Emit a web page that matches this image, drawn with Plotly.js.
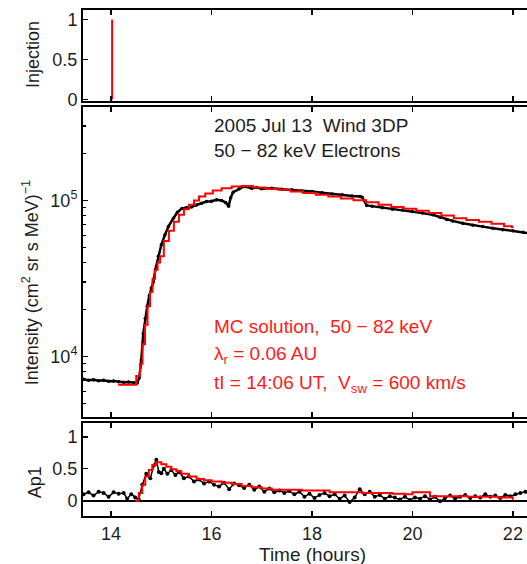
<!DOCTYPE html>
<html><head><meta charset="utf-8">
<script src="https://cdn.plot.ly/plotly-3.0.1.min.js"></script>
<style>html,body{margin:0;padding:0;overflow:hidden;background:#fff}</style>
</head><body><div id="chart" style="width:560px;height:564px"></div>
<script>
// ---- data ----
const injTime = [14.02, 14.02];
const injValue = [0, 1];

const obsTime = [13.45,13.55,13.65,13.75,13.85,13.95,14.05,14.15,14.25,14.35,14.45,14.52,
 14.56,14.60,14.64,14.68,14.72,14.76,14.80,14.84,14.88,14.94,15.00,15.07,15.14,15.24,15.32,15.41,
 15.50,15.60,15.70,15.80,15.90,16.00,16.10,16.20,16.28,16.34,16.38,16.43,16.55,16.65,16.80,16.90,
 17.00,17.20,17.40,17.60,17.80,18.00,18.20,18.40,18.60,18.80,18.96,19.00,19.09,19.20,19.40,19.60,
 19.80,20.00,20.20,20.40,20.55,20.68,20.80,21.00,21.20,21.40,21.60,21.80,22.00,22.20,22.35];
const obsIntensity = [7150,7050,7100,7000,7050,6950,6980,6900,6850,6880,6800,6780,
 7300,9500,14000,17500,21000,24500,27500,30000,36000,44000,52000,60000,68000,77000,84000,89000,
 90000,91000,93500,96000,98500,99000,101000,100000,97000,92000,104000,113000,119000,123000,120000,121000,
 119000,120000,118000,117000,115000,114000,112000,110000,109000,107000,106000,105000,93000,92000,90000,88000,
 87000,85000,83000,81000,78000,75500,74000,71500,69500,68000,66500,65000,64000,62500,61500];

const modelTime = [14.14,14.30,14.45,14.55,14.60,14.65,14.70,14.75,14.80,14.85,14.90,14.95,15.00,
 15.10,15.20,15.30,15.40,15.50,15.60,15.70,15.80,15.95,16.10,16.30,16.50,16.70,16.95,17.20,17.45,
 17.70,17.95,18.20,18.45,18.70,18.95,19.20,19.45,19.70,19.95,20.20,20.45,20.70,20.95,21.20,21.45,
 21.70,21.95,22.01];
const modelIntensity = [6590,6590,6600,7500,9000,12000,16000,21000,26000,31500,36000,40000,44000,
 55000,64000,73000,81000,88000,94000,100000,106000,111000,116000,120000,123000,124000,121000,119000,117000,
 114000,111500,109000,106000,103000,100500,97500,94000,91000,88500,86000,83000,80000,77000,75000,73000,
 71000,68500,67500];

const anisoTime = [13.45,13.55,13.65,13.75,13.85,13.95,14.05,14.15,14.25,14.32,14.40,14.48,14.55,14.62,
 14.70,14.78,14.85,14.90,14.95,15.00,15.05,15.12,15.20,15.28,15.35,15.45,15.55,15.65,15.75,15.85,15.95,
 16.05,16.15,16.25,16.35,16.45,16.55,16.65,16.75,16.85,16.95,17.05,17.15,17.25,17.35,17.45,17.55,17.65,
 17.75,17.85,17.95,18.05,18.15,18.25,18.35,18.45,18.55,18.65,18.75,18.85,18.95,19.05,19.15,19.25,19.35,
 19.45,19.55,19.65,19.75,19.85,19.95,20.05,20.15,20.25,20.35,20.45,20.55,20.65,20.75,20.85,20.95,21.05,
 21.15,21.25,21.35,21.45,21.55,21.65,21.75,21.85,21.95,22.05,22.15,22.25,22.35];
const anisoValue = [0.10,0.13,0.08,0.14,0.12,0.06,0.13,0.11,0.12,0.03,0.10,0.05,0.02,0.25,
 0.42,0.35,0.55,0.64,0.45,0.43,0.50,0.42,0.48,0.40,0.45,0.35,0.38,0.30,0.33,0.27,0.30,
 0.25,0.22,0.28,0.18,0.27,0.24,0.20,0.25,0.17,0.22,0.14,0.19,0.13,0.16,0.12,0.15,0.10,
 0.14,0.06,0.11,0.04,0.09,0.12,0.07,0.10,0.03,0.08,-0.02,0.05,0.18,0.10,0.14,0.06,0.09,
 0.03,0.07,0.05,0.02,0.06,0.01,0.05,0.03,0.07,0.02,0.06,-0.01,0.04,0.08,0.03,0.06,0.09,
 0.04,0.07,0.05,0.10,0.06,0.08,0.04,0.09,0.07,0.10,0.12,0.14,0.13];

const modelAnisoTime = [14.48,14.55,14.62,14.68,14.75,14.82,14.90,15.00,15.10,15.20,15.30,15.40,15.55,
 15.70,15.85,16.00,16.20,16.40,16.60,16.80,17.00,17.20,17.50,17.80,18.05,18.35,18.70,19.00,19.30,19.60,
 19.85,20.00,20.20,20.35,20.60,20.90,21.10,21.40,21.70,21.95,22.00,22.02];
const modelAnisoValue = [0.00,0.12,0.25,0.38,0.48,0.56,0.60,0.57,0.53,0.49,0.46,0.42,0.38,
 0.34,0.32,0.30,0.28,0.26,0.23,0.21,0.19,0.17,0.17,0.16,0.16,0.13,0.13,0.12,0.12,0.11,
 0.10,0.13,0.13,0.07,0.07,0.07,0.06,0.06,0.05,0.05,0.03,0.03];

const xTicks = [14,16,18,20,22];
const xTickText = ['14','16','18','20','22'];
const linTicks = [0,0.5,1];
const linTickText = ['0','0.5','1'];
const logTicks = [1e4,1e5];
const logTickText = ['10<sup>4</sup>','10<sup>5</sup>'];
const logMinor = [5000,6000,7000,8000,9000,20000,30000,40000,50000,60000,70000,80000,90000,200000,300000];

// ---- chart ----
const INK = '#1e1e1e';
const FONT = 'Liberation Sans, Arial, Helvetica, sans-serif';
function xax(anchor, labels){
  return {range:[13.44,22.56], domain:[0,1], anchor:anchor,
    tickmode:'array', tickvals:xTicks, ticktext:xTickText, showticklabels:labels,
    ticks:'inside', ticklen:5, tickwidth:1.5, tickcolor:'#000',
    showline:true, linewidth:2, linecolor:'#000', mirror:'ticks',
    showgrid:false, zeroline:false, tickfont:{size:18, color:INK}};
}
function yax(anchor, domain, extra){
  return Object.assign({domain:domain, anchor:anchor,
    ticks:'inside', ticklen:5, tickwidth:1.5, tickcolor:'#000',
    showline:true, linewidth:2, linecolor:'#000', mirror:'ticks',
    showgrid:false, zeroline:false, tickfont:{size:18, color:INK}}, extra);
}

const traces = [
  {x:injTime, y:injValue, xaxis:'x', yaxis:'y', mode:'lines', line:{color:'#ff0000', width:2}},
  {x:obsTime, y:obsIntensity, xaxis:'x2', yaxis:'y2', mode:'lines+markers',
   line:{color:'#000', width:2.5}, marker:{color:'#000', size:3.5}},
  {x:modelTime, y:modelIntensity, xaxis:'x2', yaxis:'y2', mode:'lines',
   line:{color:'#ff0000', width:2, shape:'hvh'}},
  {x:anisoTime, y:anisoValue, xaxis:'x3', yaxis:'y3', mode:'lines+markers',
   line:{color:'#000', width:1.5}, marker:{color:'#000', size:4}},
  {x:modelAnisoTime, y:modelAnisoValue, xaxis:'x3', yaxis:'y3', mode:'lines',
   line:{color:'#ff0000', width:2, shape:'hv'}}
];

const red = '#ff1a1a';
const layout = {
  width:560, height:564, showlegend:false,
  margin:{l:83, r:19, t:9, b:48},
  paper_bgcolor:'#fff', plot_bgcolor:'#fff',
  font:{family:FONT, color:INK, size:18},
  xaxis: xax('y', false),
  xaxis2: xax('y2', false),
  xaxis3: xax('y3', true),
  yaxis: yax('x', [0.8185,0.998], {range:[-0.02,1.12], tickmode:'array', tickvals:linTicks, ticktext:linTickText}),
  yaxis2: yax('x2', [0.196,0.807], {type:'log', range:[3.615,5.6], tickmode:'array', tickvals:logTicks, ticktext:logTickText,
     minor:{ticks:'inside', ticklen:3, tickwidth:1.2, tickcolor:'#000', tickmode:'array', tickvals:logMinor}}),
  yaxis3: yax('x3', [0,0.184], {range:[-0.24,1.22], tickmode:'array', tickvals:linTicks, ticktext:linTickText,
     zeroline:true, zerolinecolor:'#000', zerolinewidth:2}),
  annotations:[
    {text:'Injection', xref:'paper', yref:'paper', x:-0.109, y:(516-55)/507, textangle:-90,
     showarrow:false, xanchor:'center', yanchor:'middle', font:{size:18, color:INK}},
    {text:'Intensity (cm<sup>2</sup> sr s MeV)<sup>\u22121</sup>', xref:'paper', yref:'paper', x:-0.115, y:(516-283)/507, textangle:-90,
     showarrow:false, xanchor:'center', yanchor:'middle', font:{size:18, color:INK}},
    {text:'Ap1', xref:'paper', yref:'paper', x:-0.104, y:(516-482)/507, textangle:-90,
     showarrow:false, xanchor:'center', yanchor:'middle', font:{size:18, color:INK}},
    {text:'Time (hours)', xref:'paper', yref:'paper', x:0.5, y:(516-554)/507,
     showarrow:false, xanchor:'center', yanchor:'middle', font:{size:19, color:INK}},
    {text:'2005 Jul 13\u00a0\u00a0Wind 3DP', xref:'paper', yref:'paper', x:0.281, y:(516-126)/507,
     showarrow:false, xanchor:'left', yanchor:'middle', font:{size:19, color:INK}},
    {text:'50 \u2212 82 keV Electrons', xref:'paper', yref:'paper', x:0.281, y:(516-150)/507,
     showarrow:false, xanchor:'left', yanchor:'middle', font:{size:19, color:INK}},
    {text:'MC solution,\u00a0\u00a050 \u2212 82 keV', xref:'paper', yref:'paper', x:0.281, y:(516-326)/507,
     showarrow:false, xanchor:'left', yanchor:'middle', font:{size:19, color:red}},
    {text:'\u03bb<sub>r</sub> = 0.06 AU', xref:'paper', yref:'paper', x:0.281, y:(516-355)/507,
     showarrow:false, xanchor:'left', yanchor:'middle', font:{size:19, color:red}},
    {text:'tI = 14:06 UT,\u00a0\u00a0V<sub>sw</sub> = 600 km/s', xref:'paper', yref:'paper', x:0.281, y:(516-384)/507,
     showarrow:false, xanchor:'left', yanchor:'middle', font:{size:19, color:red}}
  ]
};
Plotly.newPlot('chart', traces, layout, {displayModeBar:false, staticPlot:true});
</script></body></html>
